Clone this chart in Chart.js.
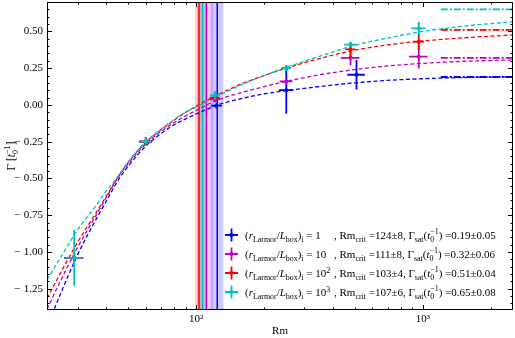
<!DOCTYPE html>
<html>
<head>
<meta charset="utf-8">
<script src="https://cdn.jsdelivr.net/npm/chart.js@4.4.1/dist/chart.umd.min.js"></script>
<style>
  html, body { margin: 0; padding: 0; background: #fff; }
  #wrap { width: 515px; height: 338px; }
</style>
</head>
<body>
<div id="wrap"><canvas id="growth" width="515" height="338"></canvas></div>
<script>
// ---- data ----
// fit curves (dashed), sampled at these Rm values
const rmGrid = [22, 25, 30, 35, 40, 45, 50, 60, 70, 80, 90, 100, 125, 160, 200, 250, 350, 500, 700, 1000, 1500, 2500];
const fitBlue    = [-1.51, -1.30, -1.02, -0.82, -0.66, -0.52, -0.42, -0.28, -0.195, -0.135, -0.095, -0.062, 0.00, 0.045, 0.075, 0.097, 0.125, 0.15, 0.167, 0.178, 0.186, 0.192];
const fitMagenta = [-1.39, -1.21, -0.97, -0.79, -0.635, -0.50, -0.405, -0.265, -0.18, -0.12, -0.075, -0.038, 0.035, 0.085, 0.125, 0.16, 0.205, 0.24, 0.265, 0.283, 0.296, 0.306];
const fitRed     = [-1.315, -1.155, -0.935, -0.77, -0.625, -0.495, -0.395, -0.255, -0.17, -0.105, -0.05, -0.01, 0.07, 0.145, 0.20, 0.25, 0.315, 0.372, 0.408, 0.435, 0.456, 0.476];
const fitCyan    = [-1.19, -1.05, -0.85, -0.715, -0.59, -0.49, -0.39, -0.25, -0.165, -0.10, -0.05, -0.015, 0.06, 0.14, 0.20, 0.255, 0.33, 0.405, 0.455, 0.50, 0.535, 0.566];

// measured growth rates with error bars
const rmBlue = [29, 60, 123, 250, 510];
const gBlue = [-1.04, -0.25, -0.005, 0.10, 0.205];
const rmErrBlue = [2.8, 4, 7, 18, 45];
const gErrBlue = [0.03, 0.03, 0.02, 0.16, 0.10];

const rmMagenta = [29, 60, 121, 250, 480, 960];
const gMagenta = [-1.04, -0.25, 0.04, 0.16, 0.32, 0.328];
const rmErrMagenta = [2.5, 3.5, 6, 16, 45, 90];
const gErrMagenta = [0.03, 0.03, 0.02, 0.02, 0.05, 0.08];

const rmRed = [29, 60, 121, 250, 480, 960];
const gRed = [-1.04, -0.25, 0.05, 0.25, 0.378, 0.43];
const rmErrRed = [2.5, 3.5, 6, 12, 25, 55];
const gErrRed = [0.03, 0.03, 0.02, 0.02, 0.05, 0.055];

const rmCyan = [29, 60, 121, 250, 480, 960];
const gCyan = [-1.04, -0.25, 0.065, 0.25, 0.41, 0.52];
const rmErrCyan = [2.5, 3.5, 6, 12, 30, 70];
const gErrCyan = [0.19, 0.03, 0.03, 0.02, 0.02, 0.045];

// critical Rm and saturated growth (blue, magenta, red, cyan)
const rmCrit = [124, 111, 103, 107];
const rmCritErr = [8, 8, 4, 6];
const gammaSat = [0.19, 0.32, 0.51, 0.65];
const gammaSatErr = [0.05, 0.06, 0.04, 0.08];
const satLineRm = [1200, 2500];
const ratioLabels = ['1', '10', '10^2', '10^3'];

// ticks
const xMajorTicks = [100, 1000];
const xMinorTicks = [30, 40, 50, 60, 70, 80, 90, 200, 300, 400, 500, 600, 700, 800, 900, 2000];
const yMajorTicks = [-1.25, -1.0, -0.75, -0.5, -0.25, 0, 0.25, 0.5];

const series = [
  { color: '#0000ff', fit: fitBlue, rm: rmBlue, g: gBlue, rmErr: rmErrBlue, gErr: gErrBlue },
  { color: '#c000c0', fit: fitMagenta, rm: rmMagenta, g: gMagenta, rmErr: rmErrMagenta, gErr: gErrMagenta },
  { color: '#ff0000', fit: fitRed, rm: rmRed, g: gRed, rmErr: rmErrRed, gErr: gErrRed },
  { color: '#00bfbf', fit: fitCyan, rm: rmCyan, g: gCyan, rmErr: rmErrCyan, gErr: gErrCyan },
];

const FAM = '"Liberation Serif", "Times New Roman", serif';

// draws text with italics / sub / superscripts, returns end x
function drawRich(ctx, x, y, parts, size, draw = true) {
  const sub = size * 0.72;
  for (const p of parts) {
    const kind = p[0];
    if (kind === 'n' || kind === 'i') {
      ctx.font = (kind === 'i' ? 'italic ' : '') + size + 'px ' + FAM;
      if (draw) ctx.fillText(p[1], x, y);
      x += ctx.measureText(p[1]).width;
    } else if (kind === 'sub' || kind === 'sup') {
      ctx.font = sub + 'px ' + FAM;
      const dy = kind === 'sub' ? size * 0.28 : -size * 0.4;
      if (draw) ctx.fillText(p[1], x, y + dy);
      x += ctx.measureText(p[1]).width;
    } else if (kind === 'ss') {
      ctx.font = sub + 'px ' + FAM;
      if (draw) {
        ctx.fillText(p[1], x, y + size * 0.3);
        ctx.fillText(p[2], x, y - size * 0.42);
      }
      x += Math.max(ctx.measureText(p[1]).width, ctx.measureText(p[2]).width);
    }
  }
  return x;
}

const fmtY = v => {
  const s = Math.abs(v).toFixed(2);
  return v < -1e-9 ? '\u2212\u2004' + s : s;
};

const bandsPlugin = {
  id: 'bands',
  beforeDatasetsDraw(chart) {
    const { ctx, chartArea: a, scales: { x } } = chart;
    ctx.save();
    ctx.beginPath();
    ctx.rect(a.left, a.top, a.right - a.left, a.bottom - a.top);
    ctx.clip();
    series.forEach((s, i) => {
      const x0 = x.getPixelForValue(rmCrit[i] - rmCritErr[i]);
      const x1 = x.getPixelForValue(rmCrit[i] + rmCritErr[i]);
      ctx.globalAlpha = 0.2;
      ctx.fillStyle = s.color;
      ctx.fillRect(x0, a.top, x1 - x0, a.bottom - a.top);
    });
    ctx.globalAlpha = 1;
    ctx.lineWidth = 1.5;
    series.forEach((s, i) => {
      const xc = x.getPixelForValue(rmCrit[i]);
      ctx.strokeStyle = s.color;
      ctx.beginPath();
      ctx.moveTo(xc, a.top);
      ctx.lineTo(xc, a.bottom);
      ctx.stroke();
    });
    ctx.restore();
  }
};

const errorBarPlugin = {
  id: 'errbars',
  beforeDatasetDraw(chart, args) {
    const ds = chart.data.datasets[args.index];
    if (!ds.errX) return;
    const { ctx, chartArea: a, scales: { x, y } } = chart;
    ctx.save();
    ctx.beginPath();
    ctx.rect(a.left, a.top, a.right - a.left, a.bottom - a.top);
    ctx.clip();
    ctx.strokeStyle = ds.backgroundColor;
    ctx.lineWidth = 1.8;
    ds.data.forEach((d, j) => {
      const px = x.getPixelForValue(d.x), py = y.getPixelForValue(d.y);
      ctx.beginPath();
      ctx.moveTo(x.getPixelForValue(d.x - ds.errX[j]), py);
      ctx.lineTo(x.getPixelForValue(d.x + ds.errX[j]), py);
      ctx.moveTo(px, y.getPixelForValue(d.y - ds.errY[j]));
      ctx.lineTo(px, y.getPixelForValue(d.y + ds.errY[j]));
      ctx.stroke();
    });
    ctx.restore();
  }
};

const framePlugin = {
  id: 'frame',
  afterDraw(chart) {
    const { ctx, chartArea: a, scales: { x, y } } = chart;
    ctx.save();
    ctx.strokeStyle = '#000';
    ctx.lineWidth = 1;
    ctx.strokeRect(a.left + 0.5, a.top + 0.5, a.right - a.left - 1, a.bottom - a.top - 1);

    const tick = (x0, y0, x1, y1) => { ctx.moveTo(x0, y0); ctx.lineTo(x1, y1); };
    ctx.beginPath();
    xMajorTicks.concat(xMinorTicks).forEach(v => {
      const len = xMajorTicks.includes(v) ? 5 : 2.5;
      const px = Math.round(x.getPixelForValue(v)) + 0.5;
      tick(px, a.bottom, px, a.bottom - len);
      tick(px, a.top, px, a.top + len);
    });
    for (let k = -28; k <= 14; k++) {
      const v = k * 0.05;
      if (v < y.min || v > y.max) continue;
      const major = k % 5 === 0;
      const len = major ? 5 : 2.5;
      const py = Math.round(y.getPixelForValue(v)) + 0.5;
      tick(a.left, py, a.left + len, py);
      tick(a.right, py, a.right - len, py);
    }
    ctx.stroke();

    // axis titles
    ctx.fillStyle = '#000';
    ctx.textBaseline = 'alphabetic';
    ctx.font = '11px ' + FAM;
    ctx.textAlign = 'center';
    ctx.fillText('Rm', (a.left + a.right) / 2, 334);
    ctx.textAlign = 'left';
    const yTitle = [['n', '\u0393 ['], ['i', 't'], ['ss', '0', '\u22121'], ['n', ']']];
    const w = drawRich(ctx, 0, 0, yTitle, 11.5, false);
    ctx.save();
    ctx.translate(15, 156);
    ctx.rotate(-Math.PI / 2);
    drawRich(ctx, -w / 2, 0, yTitle, 11.5);
    ctx.restore();

    // legend
    const rowY = [235, 254, 273, 292];
    series.forEach((s, i) => {
      const cy = rowY[i];
      ctx.strokeStyle = s.color;
      ctx.lineWidth = 1.8;
      ctx.beginPath();
      tick(225, cy, 238, cy);
      tick(231.5, cy - 6.5, 231.5, cy + 6.5);
      ctx.stroke();
      ctx.fillStyle = s.color;
      ctx.beginPath();
      ctx.arc(231.5, cy, 2, 0, Math.PI * 2);
      ctx.fill();

      ctx.fillStyle = '#000';
      const base = cy + 4;
      const [num, exp] = ratioLabels[i].split('^');
      const left = [['n', '('], ['i', 'r'], ['sub', 'Larmor'], ['n', '/'], ['i', 'L'], ['sub', 'box'],
        ['n', ')'], ['sub', 'i'], ['n', ' = ' + num]];
      if (exp) left.push(['sup', exp]);
      drawRich(ctx, 245, base, left, 11);
      const right = [['n', ', Rm'], ['sub', 'crit'], ['n', ' =' + rmCrit[i] + '\u00b1' + rmCritErr[i] + ', \u0393'],
        ['sub', 'sat'], ['n', '('], ['i', 't'], ['ss', '0', '\u22121'],
        ['n', ') =' + gammaSat[i].toFixed(2) + '\u00b1' + gammaSatErr[i].toFixed(2)]];
      drawRich(ctx, 334, base, right, 11);
    });
    ctx.restore();
  }
};

const pointSets = series.map(s => ({
  data: s.rm.map((r, j) => ({ x: r, y: s.g[j] })),
  errX: s.rmErr,
  errY: s.gErr,
  showLine: false,
  pointRadius: 2,
  pointHoverRadius: 2,
  backgroundColor: s.color,
  borderWidth: 0,
})).reverse();

const satSets = series.map((s, i) => ({
  data: satLineRm.map(r => ({ x: r, y: gammaSat[i] })),
  showLine: true,
  borderColor: s.color,
  borderWidth: 1.8,
  borderDash: [7, 2, 2, 2],
  pointRadius: 0,
}));

const fitSets = series.map(s => ({
  data: rmGrid.map((r, j) => ({ x: r, y: s.fit[j] })),
  showLine: true,
  borderColor: s.color,
  borderWidth: 1.3,
  borderDash: [4, 2.5],
  pointRadius: 0,
  cubicInterpolationMode: 'monotone',
})).reverse();

new Chart(document.getElementById('growth'), {
  type: 'scatter',
  data: { datasets: [...pointSets, ...satSets, ...fitSets] },
  options: {
    responsive: false,
    animation: false,
    devicePixelRatio: 1,
    layout: { padding: { left: 0, right: 2, top: 2, bottom: 0 } },
    plugins: { legend: { display: false }, tooltip: { enabled: false } },
    elements: { line: { tension: 0 } },
    scales: {
      x: {
        type: 'logarithmic',
        min: 22,
        max: 2500,
        grid: { display: false, drawTicks: false },
        border: { display: false },
        afterBuildTicks: s => { s.ticks = xMajorTicks.map(v => ({ value: v })); },
        afterFit: s => { s.height = 28; s.paddingLeft = 0; s.paddingRight = 0; },
        ticks: {
          autoSkip: false,
          maxRotation: 0,
          padding: 3,
          color: '#000',
          font: { family: FAM, size: 11 },
          callback: v => (v === 100 ? '10\u00b2' : v === 1000 ? '10\u00b3' : ''),
        },
      },
      y: {
        type: 'linear',
        min: -1.395,
        max: 0.70,
        grid: { display: false, drawTicks: false },
        border: { display: false },
        afterBuildTicks: s => { s.ticks = yMajorTicks.map(v => ({ value: v })); },
        afterFit: s => { s.width = 47; s.paddingTop = 0; s.paddingBottom = 0; },
        ticks: {
          autoSkip: false,
          padding: 4,
          color: '#000',
          font: { family: FAM, size: 11 },
          callback: v => fmtY(v),
        },
      },
    },
  },
  plugins: [bandsPlugin, errorBarPlugin, framePlugin],
});
</script>
</body>
</html>
